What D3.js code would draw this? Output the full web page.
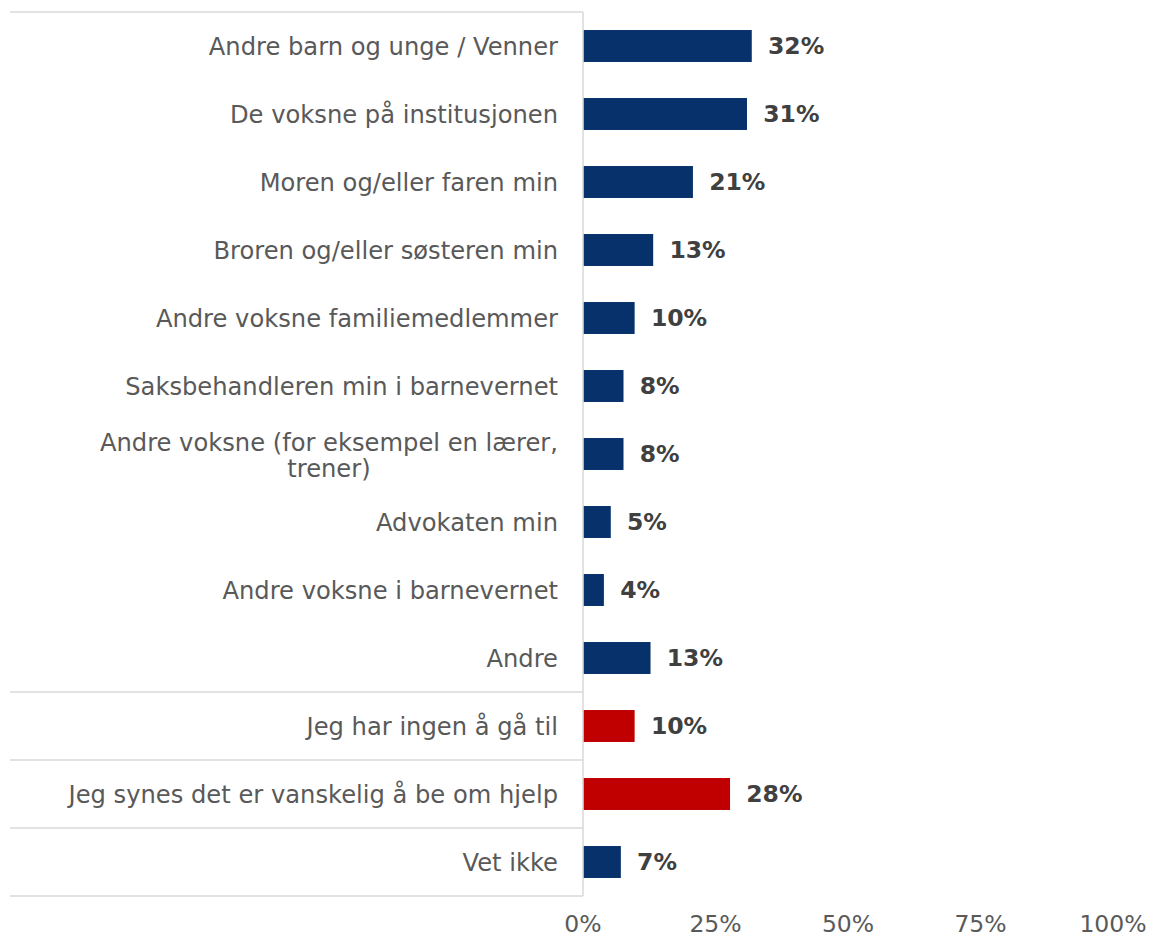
<!DOCTYPE html>
<html>
<head>
<meta charset="utf-8">
<script src="https://cdn.jsdelivr.net/npm/d3@7"></script>
<style>
  body { margin: 0; background: #fff; }
  svg { display: block; }
</style>
</head>
<body>
<svg id="chart" width="1154" height="938"></svg>
<script>
const categories = [
  "Andre barn og unge / Venner",
  "De voksne på institusjonen",
  "Moren og/eller faren min",
  "Broren og/eller søsteren min",
  "Andre voksne familiemedlemmer",
  "Saksbehandleren min i barnevernet",
  "Andre voksne (for eksempel en lærer,|trener)",
  "Advokaten min",
  "Andre voksne i barnevernet",
  "Andre",
  "Jeg har ingen å gå til",
  "Jeg synes det er vanskelig å be om hjelp",
  "Vet ikke"
];
const values = [31.7, 30.8, 20.6, 13.1, 9.6, 7.5, 7.5, 5.1, 3.8, 12.6, 9.6, 27.6, 7.0];
const groups = ["who","who","who","who","who","who","who","who","who","who","none","hard","unknown"];
const tickValues = [0, 25, 50, 75, 100];

const colors = { who: "#06316B", none: "#C00000", hard: "#C00000", unknown: "#06316B" };
const font = "'DejaVu Sans', Verdana, sans-serif";

const svg = d3.select("#chart");
const x0 = 583, x1 = 1113, yTop = 12, yBot = 896;

const x = d3.scaleLinear().domain([0, 100]).range([x0, x1]);
const y = d3.scaleBand().domain(d3.range(categories.length)).range([yTop, yBot])
  .paddingInner(0.53).paddingOuter(0.265);
const step = y.step();

// grid / separators
const sepRows = [0, 10, 11, 12, 13];
svg.append("g").selectAll("line").data(sepRows).join("line")
  .attr("x1", 10).attr("x2", x0)
  .attr("y1", d => yTop + d * step).attr("y2", d => yTop + d * step)
  .attr("stroke", "#d9d9d9").attr("stroke-width", 1.5);

svg.append("line").attr("x1", x0).attr("x2", x0).attr("y1", yTop).attr("y2", yBot)
  .attr("stroke", "#d9d9d9").attr("stroke-width", 1.5);

// bars
svg.append("g").selectAll("rect").data(values).join("rect")
  .attr("x", x0 + 0.75)
  .attr("y", (d, i) => y(i))
  .attr("width", d => x(d) - x0)
  .attr("height", y.bandwidth())
  .attr("fill", (d, i) => colors[groups[i]]);

// value labels
svg.append("g").selectAll("text").data(values).join("text")
  .attr("x", d => x(d) + 17)
  .attr("y", (d, i) => y(i) + y.bandwidth() / 2)
  .attr("dy", "0.36em")
  .attr("font-family", font).attr("font-weight", "bold").attr("font-size", 23.5)
  .attr("fill", "#404040")
  .text(d => d3.format(".0f")(d) + "%");

// category labels
const labX = 558;
const catSize = 24.2;
const lg = svg.append("g");
categories.forEach((c, i) => {
  const cy = y(i) + y.bandwidth() / 2;
  const lines = c.split("|");
  if (lines.length === 1) {
    lg.append("text").attr("x", labX).attr("y", cy).attr("dy", "0.36em")
      .attr("text-anchor", "end")
      .attr("font-family", font).attr("font-size", catSize).attr("fill", "#595959")
      .text(c);
  } else {
    const t1 = lg.append("text").attr("x", labX).attr("y", cy - 12).attr("dy", "0.36em")
      .attr("text-anchor", "end")
      .attr("font-family", font).attr("font-size", catSize).attr("fill", "#595959")
      .text(lines[0]);
    const w = t1.node().getComputedTextLength();
    lg.append("text").attr("x", labX - w / 2).attr("y", cy + 14).attr("dy", "0.36em")
      .attr("text-anchor", "middle")
      .attr("font-family", font).attr("font-size", catSize).attr("fill", "#595959")
      .text(lines[1]);
  }
});

// x axis tick labels
svg.append("g").selectAll("text").data(tickValues).join("text")
  .attr("x", d => x(d))
  .attr("y", 924).attr("dy", "0.36em")
  .attr("text-anchor", "middle")
  .attr("font-family", font).attr("font-size", 23.5).attr("fill", "#595959")
  .text(d => d + "%");
</script>
</body>
</html>
